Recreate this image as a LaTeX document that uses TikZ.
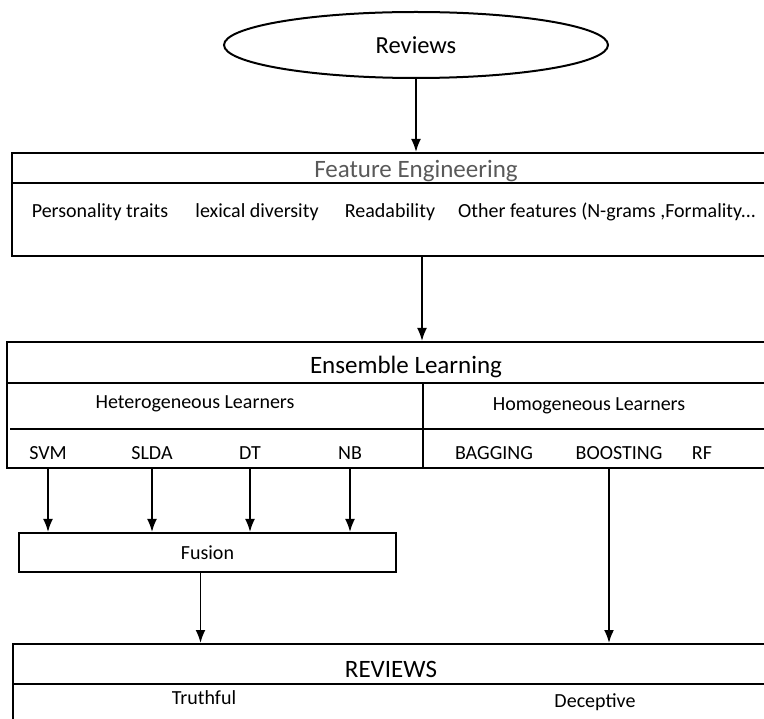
\documentclass[tikz,border=0pt]{standalone}
\usepackage{fontspec}
\setmainfont{Carlito}
\usetikzlibrary{positioning}
\usetikzlibrary{shapes.geometric}
\usetikzlibrary{arrows.meta}
\tikzset{
	box/.style={draw, line width=2pt, anchor=north west, inner sep=0pt, minimum width=800pt},
	arr/.style={-{Latex[length=13pt,width=10pt]}, line width=1.8pt},
	sep/.style={line width=1.5pt},
	big/.style={font=\fontsize{25}{29}\selectfont},
	small/.style={font=\fontsize{20}{24}\selectfont},
}

\begin{document}
\begin{tikzpicture}[x=1pt,y=-1pt]
		% page frame, boxes run out on the right
		\useasboundingbox (0,0) rectangle (764,719);
		\clip (0,0) rectangle (764,719);
		\node[draw, ellipse, line width=2pt, minimum width=384pt, minimum height=66pt, inner sep=0pt, font=\fontsize{24.5}{28}\selectfont] (rev) at (416,45) {Reviews};
		% feature engineering
		\node[box, minimum height=103pt] (fe) at (11,152) {};
		\draw[sep] (11,183) -- (811,183);
		\node[big, black!65] (fetitle) at (416,171) {Feature Engineering};
		\node[small] (pers) at (100,212) {Personality traits};
		\node[small] (lex) at (257,212) {lexical diversity};
		\node[small] (read) at (390,212) {Readability};
		\node[small, anchor=west, inner sep=0pt] (other) at (458,212) {Other features (N-grams ,Formality...};
		% ensemble learning
		\node[box, minimum height=126pt] (ens) at (6,341) {};
		\draw[sep] (6,383) -- (806,383);
		\draw[sep] (10,429) -- (806,429);
		\draw[sep] (423,383) -- (423,467);
		\node[big] (enstitle) at (406,367) {Ensemble Learning};
		\node[small] (het) at (195,404) {Heterogeneous Learners};
		\node[small] (hom) at (589,406) {Homogeneous Learners};
		\node[small] (svm) at (48,453) {SVM};
		\node[small] (slda) at (152,453) {SLDA};
		\node[small] (dt) at (250,453) {DT};
		\node[small] (nb) at (350,453) {NB};
		\node[small] (bag) at (494,453) {BAGGING};
		\node[small] (boost) at (619,453) {BOOSTING};
		\node[small] (rf) at (702,453) {RF};
		% fusion and output
		\node[draw, line width=2pt, anchor=north west, minimum width=377pt, minimum height=39pt, inner sep=0pt, small] (fus) at (18,532) {Fusion};
		\node[box, minimum height=100pt] (out) at (12,643) {};
		\draw[sep] (12,684) -- (812,684);
		\node[big] (outtitle) at (391,669) {REVIEWS};
		\node[small] (truth) at (204,698) {Truthful};
		\node[small] (dec) at (595,702) {Deceptive};
		% arrows
		\coordinate (bx) at ([xshift=-10pt]boost.south);
		\draw[arr] (rev.south) -- (rev.south |- fe.north);
		\draw[arr] ([xshift=6pt]rev.south |- fe.south) -- ([xshift=6pt]rev.south |- ens.north);
		\foreach \n in {svm,slda,dt,nb}
			\draw[arr] (\n.south |- ens.south) -- (\n.south |- fus.north);
		\draw[arr] ([xshift=-7pt]fus.south) -- ([xshift=-7pt]fus.south |- out.north);
		\draw[arr] (bx |- ens.south) -- (bx |- out.north);
	\end{tikzpicture}
\end{document}
